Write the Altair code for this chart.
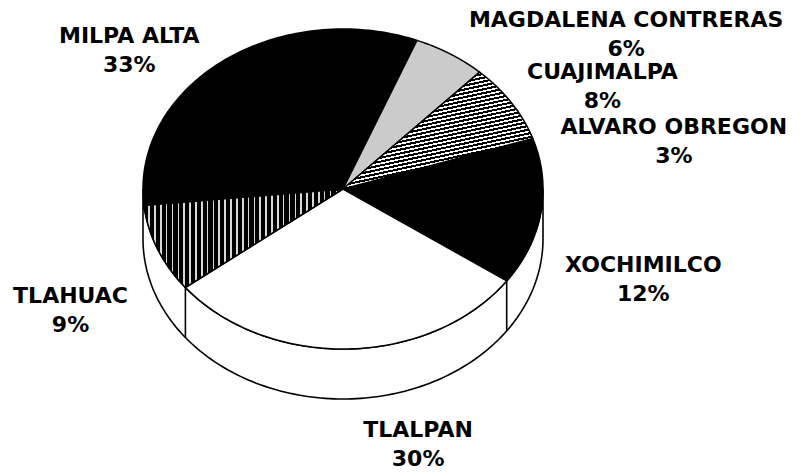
import altair as alt
import pandas as pd

# ---- data ----
NAMES = ["TLALPAN", "XOCHIMILCO", "ALVARO OBREGON", "CUAJIMALPA",
         "MAGDALENA CONTRERAS", "MILPA ALTA", "TLAHUAC"]
VALUES = [30, 12, 3, 8, 6, 33, 9]

# ---- layout / style (not data) ----
CX, CY, RX, RY, DEPTH = 343, 189, 200, 160, 50   # page-pixel geometry of the 3-D pie
START = 218          # parametric start angle (deg, counter-clockwise)
N = 90               # points per wedge arc
M = 140              # points per side arc
LINE = 29            # line spacing of two-line labels
FONT = "DejaVu Sans"
W, H = 785, 466
LABEL_NUDGE = {      # label offset from the rim point at each slice's mid-angle
    "TLALPAN": (70, 81),
    "XOCHIMILCO": (106, 38),
    "ALVARO OBREGON": (136, -26),
    "CUAJIMALPA": (91, -31),
    "MAGDALENA CONTRERAS": (176, -34),
    "MILPA ALTA": (-93, -25),
    "TLAHUAC": (-87, 47),
}

df = pd.DataFrame({
    "name": NAMES,
    "value": VALUES,
    "order": list(range(len(NAMES))),
    "ndx": [LABEL_NUDGE[n][0] for n in NAMES],
    "ndy": [LABEL_NUDGE[n][1] for n in NAMES],
})

xs = alt.Scale(domain=[8, 8 + W], nice=False, zero=False)
ys = alt.Scale(domain=[8, 8 + H], nice=False, zero=False, reverse=True)


def X(f):
    return alt.X(f"{f}:Q", scale=xs, axis=None)


def Y(f):
    return alt.Y(f"{f}:Q", scale=ys, axis=None)


base = (
    alt.Chart(df)
    .transform_joinaggregate(total="sum(value)")
    .transform_window(cum="sum(value)", sort=[alt.SortField("order", order="ascending")], frame=[None, 0])
    .transform_calculate(a0=f"{START} + 360 * (datum.cum - datum.value) / datum.total")
    .transform_calculate(a1=f"{START} + 360 * datum.cum / datum.total")
)

# ---- side wall (front half of the cylinder) ----
side = (
    alt.Chart(alt.sequence(0, 2 * M + 3, as_="k"))
    .transform_calculate(
        tt=f"datum.k <= {M} ? 180 + 180 * datum.k / {M} : "
           f"(datum.k <= {2 * M + 1} ? 360 - 180 * (datum.k - {M + 1}) / {M} : 180)"
    )
    .transform_calculate(low=f"datum.k > {M} && datum.k <= {2 * M + 1} ? {DEPTH} : 0")
    .transform_calculate(sx=f"{CX} + {RX} * cos(datum.tt * PI / 180)")
    .transform_calculate(sy=f"{CY} - {RY} * sin(datum.tt * PI / 180) + datum.low")
    .mark_line(fill="white", stroke="black", strokeWidth=1.6, strokeJoin="round")
    .encode(x=X("sx"), y=Y("sy"), order="k:Q")
)

# ---- vertical edges of the slices on the side wall ----
rules = (
    base.transform_calculate(b="datum.a0 * PI / 180")
    .transform_filter("sin(datum.b) < -0.2")
    .transform_calculate(bx=f"{CX} + {RX} * cos(datum.b)")
    .transform_calculate(by=f"{CY} - {RY} * sin(datum.b)")
    .transform_calculate(by2=f"datum.by + {DEPTH}")
    .mark_rule(color="black", strokeWidth=1.6)
    .encode(x=X("bx"), y=Y("by"), y2=alt.Y2("by2:Q"))
)

# ---- top wedges ----
wedge_pts = (
    base.transform_calculate(pts=f"sequence(0, {N + 3})")
    .transform_flatten(["pts"], as_=["i"])
    .transform_calculate(tr=f"(datum.a0 + (datum.a1 - datum.a0) * clamp(datum.i - 1, 0, {N}) / {N}) * PI / 180")
    .transform_calculate(edge=f"datum.i > 0 && datum.i < {N + 2}")
    .transform_calculate(px=f"datum.edge ? {CX} + {RX} * cos(datum.tr) : {CX}")
    .transform_calculate(py=f"datum.edge ? {CY} - {RY} * sin(datum.tr) : {CY}")
)


def stripes(periods, dark, x1, y1, x2, y2, c_dark="black", c_light="white"):
    stops = []
    for p in range(periods):
        o0 = p / periods
        o1 = (p + dark) / periods
        o2 = (p + 1) / periods
        stops += [alt.GradientStop(color=c_dark, offset=o0),
                  alt.GradientStop(color=c_dark, offset=o1),
                  alt.GradientStop(color=c_light, offset=o1),
                  alt.GradientStop(color=c_light, offset=o2)]
    return alt.LinearGradient(gradient="linear", stops=stops, x1=x1, y1=y1, x2=x2, y2=y2)


def wedge_layer(names, fill):
    return (
        wedge_pts.transform_filter(alt.FieldOneOfPredicate(field="name", oneOf=names))
        .mark_line(fill=fill, stroke="black", strokeWidth=1.5, strokeJoin="round")
        .encode(x=X("px"), y=Y("py"), order="i:Q", detail="name:N")
    )


w_black = wedge_layer(["XOCHIMILCO", "ALVARO OBREGON", "MILPA ALTA"], "black")
w_white = wedge_layer(["TLALPAN"], "white")
w_mag = wedge_layer(["MAGDALENA CONTRERAS"], "#cbcbcb")
w_cua = wedge_layer(["CUAJIMALPA"], stripes(34, 0.55, 0, 0, 0.35, 1.0))
w_tla = wedge_layer(["TLAHUAC"], stripes(34, 0.72, 0, 0, 1, 0, c_light="#d8d8d8"))

# ---- labels ----
labels = (
    base.transform_calculate(m="(datum.a0 + datum.a1) / 2 * PI / 180")
    .transform_calculate(lx=f"{CX} + {RX} * cos(datum.m) + datum.ndx")
    .transform_calculate(ly=f"{CY} - {RY} * sin(datum.m) + datum.ndy")
    .transform_calculate(ly2=f"datum.ly + {LINE}")
    .transform_calculate(ptxt="datum.value + '%'")
)
text_style = dict(font=FONT, fontWeight="bold", fontSize=22, align="center",
                  baseline="middle", color="black")
name_text = labels.mark_text(**text_style).encode(x=X("lx"), y=Y("ly"), text="name:N")
pct_text = labels.mark_text(**text_style).encode(x=X("lx"), y=Y("ly2"), text="ptxt:N")

chart = (
    alt.layer(side, rules, w_black, w_white, w_mag, w_cua, w_tla, name_text, pct_text)
    .properties(width=W, height=H, padding=0, autosize=alt.AutoSizeParams(type="none"),
                background="white")
    .configure_view(stroke=None)
)

chart.save("out.html", embed_options={"renderer": "svg", "actions": False})
